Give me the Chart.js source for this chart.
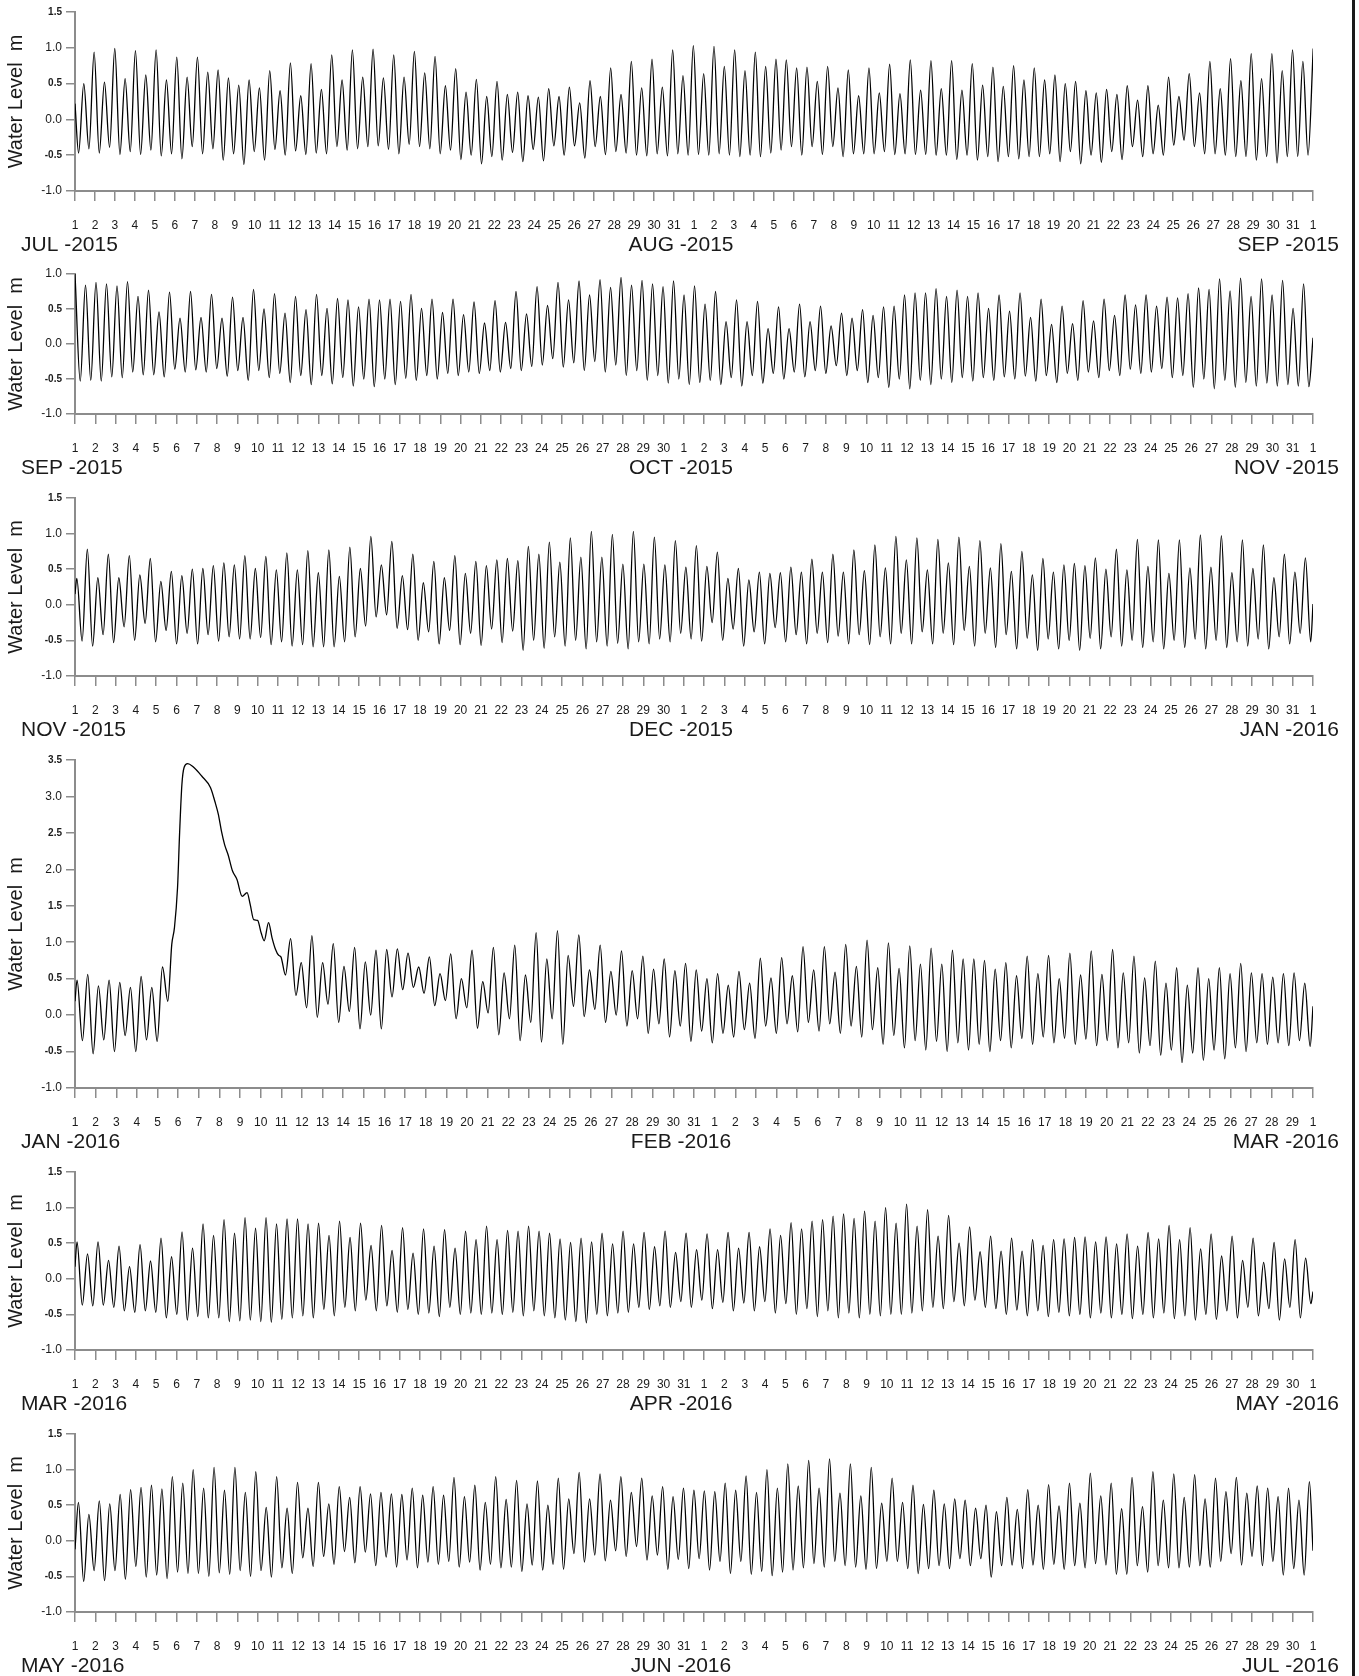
<!DOCTYPE html>
<html>
<head>
<meta charset="utf-8">
<title>Water Level Jul 2015 - Jul 2016</title>
<script src="https://cdn.jsdelivr.net/npm/chart.js@4.4.0/dist/chart.umd.min.js"></script>
<style>
html, body { margin: 0; padding: 0; background: #fff; }
#page { position: relative; width: 1359px; height: 1676px; overflow: hidden; background: #fff; }
.panel { position: absolute; left: 0; width: 1359px; }
.panel canvas { display: block; }
#edge { position: absolute; left: 1352px; top: 0; width: 3px; height: 1676px; background: #1a1a1a; }
</style>
</head>
<body>
<div id="page"><div id="edge"></div></div>
<script>
// --- tick / month labels ---
const monthNames = [
    ['JUL -2015', 'AUG -2015', 'SEP -2015'],
    ['SEP -2015', 'OCT -2015', 'NOV -2015'],
    ['NOV -2015', 'DEC -2015', 'JAN -2016'],
    ['JAN -2016', 'FEB -2016', 'MAR -2016'],
    ['MAR -2016', 'APR -2016', 'MAY -2016'],
    ['MAY -2016', 'JUN -2016', 'JUL -2016']
];
const monthLengths = [[31, 31], [30, 31], [30, 31], [31, 29], [31, 30], [31, 30]];
const yRanges = [[-1, 1.5], [-1, 1], [-1, 1.5], [-1, 3.5], [-1, 1.5], [-1, 1.5]];

// --- tide extremes (m) ---
// day offset (from first day of panel) of the first high / first low, and spacing between highs
const firstHighDay = [0.44, 0, 0.09, 0.1, 0.1, 0.17];
const firstLowDay = [0.18, 0.2587, 0.35, 0.36, 0.36, 0.427];
const tideSpacing = [0.5174, 0.5174, 0.5174, 0.5174, 0.5174, 0.514];
const startLevel = [0.22, null, 0.15, 0.19, 0.17, -0.12];
const endLevel = [null, 0.09, 0.01, 0.12, -0.18, -0.14];

const julAugHigh = [
    0.50, 0.94, 0.52, 0.99, 0.57, 0.96, 0.62, 0.97, 0.55, 0.87,
    0.59, 0.87, 0.66, 0.69, 0.58, 0.48, 0.55, 0.44, 0.68, 0.40,
    0.79, 0.33, 0.78, 0.42, 0.90, 0.55, 0.97, 0.59, 0.98, 0.58,
    0.90, 0.59, 0.95, 0.65, 0.88, 0.47, 0.71, 0.38, 0.56, 0.32,
    0.53, 0.35, 0.38, 0.33, 0.31, 0.43, 0.32, 0.45, 0.23, 0.54,
    0.32, 0.72, 0.35, 0.81, 0.44, 0.84, 0.45,
    0.97, 0.61, 1.03, 0.64, 1.02, 0.74, 0.97, 0.68, 0.94, 0.74,
    0.84, 0.83, 0.72, 0.73, 0.53, 0.74, 0.44, 0.69, 0.33, 0.72,
    0.37, 0.77, 0.36, 0.83, 0.41, 0.82, 0.43, 0.82, 0.41, 0.78,
    0.48, 0.73, 0.46, 0.75, 0.55, 0.72, 0.55, 0.62, 0.50, 0.53,
    0.40, 0.37, 0.42, 0.35, 0.47, 0.27, 0.47, 0.20, 0.59, 0.32,
    0.64, 0.37, 0.81, 0.43, 0.85, 0.54, 0.92, 0.57, 0.92, 0.68,
    0.97, 0.81, 0.99
];
const julAugLow = [
    -0.47, -0.41, -0.47, -0.39, -0.49, -0.45, -0.49, -0.43, -0.51, -0.48,
    -0.55, -0.38, -0.48, -0.41, -0.57, -0.48, -0.63, -0.45, -0.57, -0.42,
    -0.50, -0.44, -0.49, -0.47, -0.48, -0.38, -0.43, -0.41, -0.38, -0.37,
    -0.42, -0.48, -0.35, -0.38, -0.41, -0.48, -0.43, -0.56, -0.50, -0.62,
    -0.52, -0.57, -0.46, -0.59, -0.42, -0.58, -0.37, -0.50, -0.37, -0.54,
    -0.38, -0.49, -0.45, -0.47, -0.50, -0.51, -0.48, -0.51, -0.48,
    -0.50, -0.49, -0.50, -0.48, -0.50, -0.52, -0.50, -0.52, -0.47, -0.43,
    -0.38, -0.50, -0.38, -0.49, -0.38, -0.52, -0.48, -0.48, -0.48, -0.45,
    -0.49, -0.48, -0.49, -0.49, -0.50, -0.50, -0.56, -0.50, -0.57, -0.52,
    -0.59, -0.52, -0.55, -0.52, -0.52, -0.48, -0.59, -0.45, -0.62, -0.50,
    -0.60, -0.45, -0.56, -0.38, -0.52, -0.48, -0.50, -0.36, -0.29, -0.38,
    -0.48, -0.48, -0.50, -0.52, -0.52, -0.57, -0.52, -0.61, -0.52, -0.52,
    -0.50
];

const sepOctHigh = [
    1.00, 0.84, 0.88, 0.86, 0.83, 0.89, 0.68, 0.77, 0.46, 0.74,
    0.37, 0.75, 0.38, 0.71, 0.37, 0.67, 0.38, 0.78, 0.50, 0.72,
    0.44, 0.68, 0.49, 0.71, 0.51, 0.65, 0.63, 0.53, 0.64, 0.63,
    0.64, 0.61, 0.71, 0.51, 0.64, 0.45, 0.64, 0.42, 0.60, 0.30,
    0.62, 0.31, 0.75, 0.43, 0.82, 0.55, 0.88, 0.63, 0.90, 0.70,
    0.92, 0.81, 0.95, 0.84, 0.91, 0.86, 0.82, 0.90, 0.70,
    0.83, 0.57, 0.75, 0.32, 0.63, 0.32, 0.61, 0.22, 0.53, 0.22,
    0.57, 0.32, 0.54, 0.26, 0.44, 0.37, 0.49, 0.41, 0.53, 0.54,
    0.70, 0.73, 0.73, 0.79, 0.68, 0.77, 0.68, 0.73, 0.51, 0.70,
    0.47, 0.73, 0.38, 0.64, 0.28, 0.54, 0.29, 0.62, 0.33, 0.64,
    0.41, 0.70, 0.56, 0.70, 0.54, 0.67, 0.66, 0.72, 0.80, 0.78,
    0.93, 0.76, 0.94, 0.68, 0.93, 0.70, 0.91, 0.51, 0.86
];
const sepOctLow = [
    -0.53, -0.52, -0.53, -0.47, -0.48, -0.40, -0.44, -0.44, -0.47, -0.36,
    -0.40, -0.37, -0.40, -0.35, -0.46, -0.38, -0.52, -0.38, -0.48, -0.42,
    -0.55, -0.45, -0.58, -0.45, -0.57, -0.48, -0.60, -0.50, -0.61, -0.50,
    -0.58, -0.49, -0.52, -0.45, -0.50, -0.42, -0.45, -0.40, -0.42, -0.38,
    -0.40, -0.35, -0.38, -0.32, -0.30, -0.21, -0.33, -0.27, -0.38, -0.25,
    -0.40, -0.30, -0.45, -0.38, -0.52, -0.45, -0.56, -0.50, -0.58,
    -0.55, -0.52, -0.58, -0.48, -0.60, -0.45, -0.56, -0.42, -0.50, -0.40,
    -0.47, -0.38, -0.42, -0.31, -0.45, -0.38, -0.55, -0.48, -0.62, -0.50,
    -0.64, -0.52, -0.58, -0.50, -0.55, -0.48, -0.53, -0.48, -0.52, -0.47,
    -0.50, -0.46, -0.53, -0.45, -0.55, -0.42, -0.52, -0.40, -0.48, -0.38,
    -0.45, -0.36, -0.42, -0.40, -0.35, -0.48, -0.45, -0.62, -0.50, -0.64,
    -0.52, -0.62, -0.55, -0.60, -0.56, -0.60, -0.58, -0.60, -0.61
];

const novDecHigh = [
    0.37, 0.78, 0.38, 0.71, 0.38, 0.69, 0.42, 0.65, 0.33, 0.47,
    0.41, 0.50, 0.51, 0.55, 0.59, 0.56, 0.69, 0.51, 0.68, 0.49,
    0.73, 0.49, 0.76, 0.45, 0.77, 0.40, 0.81, 0.51, 0.96, 0.56,
    0.89, 0.41, 0.71, 0.31, 0.61, 0.38, 0.69, 0.44, 0.61, 0.55,
    0.63, 0.65, 0.62, 0.82, 0.71, 0.88, 0.60, 0.94, 0.67, 1.03,
    0.67, 0.99, 0.57, 1.03, 0.57, 0.95, 0.56, 0.90, 0.53,
    0.83, 0.54, 0.74, 0.37, 0.51, 0.35, 0.46, 0.44, 0.45, 0.53,
    0.46, 0.64, 0.46, 0.71, 0.46, 0.77, 0.48, 0.84, 0.52, 0.96,
    0.63, 0.94, 0.49, 0.92, 0.59, 0.95, 0.54, 0.90, 0.52, 0.86,
    0.47, 0.75, 0.42, 0.65, 0.46, 0.56, 0.58, 0.55, 0.66, 0.50,
    0.78, 0.49, 0.92, 0.54, 0.91, 0.44, 0.91, 0.52, 0.98, 0.53,
    0.97, 0.45, 0.91, 0.51, 0.84, 0.38, 0.71, 0.46, 0.66
];
const novDecLow = [
    -0.51, -0.58, -0.42, -0.53, -0.31, -0.50, -0.26, -0.52, -0.36, -0.55,
    -0.40, -0.55, -0.42, -0.51, -0.45, -0.48, -0.48, -0.46, -0.56, -0.52,
    -0.58, -0.56, -0.59, -0.59, -0.59, -0.52, -0.45, -0.30, -0.17, -0.14,
    -0.33, -0.35, -0.50, -0.38, -0.55, -0.36, -0.56, -0.40, -0.57, -0.34,
    -0.53, -0.37, -0.64, -0.50, -0.61, -0.45, -0.58, -0.50, -0.62, -0.52,
    -0.58, -0.54, -0.62, -0.52, -0.55, -0.48, -0.52, -0.40, -0.48,
    -0.51, -0.25, -0.50, -0.34, -0.58, -0.38, -0.55, -0.32, -0.52, -0.42,
    -0.55, -0.40, -0.53, -0.44, -0.55, -0.42, -0.56, -0.45, -0.55, -0.40,
    -0.55, -0.38, -0.55, -0.40, -0.56, -0.36, -0.58, -0.40, -0.60, -0.42,
    -0.62, -0.47, -0.64, -0.48, -0.62, -0.50, -0.64, -0.47, -0.62, -0.45,
    -0.58, -0.50, -0.60, -0.52, -0.62, -0.50, -0.60, -0.48, -0.62, -0.50,
    -0.60, -0.52, -0.58, -0.48, -0.62, -0.45, -0.55, -0.40, -0.52
];

// Jan-Feb: tidal extremes are masked (null) during the surge, which is given separately
const janFebHigh = [
    0.48, 0.56, 0.40, 0.48, 0.45, 0.38, 0.53, 0.38, 0.66,
    null, null, null, null, null, null, null, null, null, null, null,
    1.05, 0.72, 1.09, 0.72, 0.98, 0.67, 0.93, 0.73, 0.89, 0.90,
    0.91, 0.85, 0.66, 0.80, 0.57, 0.84, 0.50, 0.89, 0.46, 0.93,
    0.58, 0.96, 0.55, 1.13, 0.77, 1.16, 0.82, 1.10, 0.62, 0.96,
    0.60, 0.88, 0.61, 0.81, 0.63, 0.77,
    0.61, 0.71, 0.62, 0.50, 0.57, 0.41, 0.60, 0.44, 0.78, 0.51,
    0.79, 0.54, 0.94, 0.62, 0.94, 0.59, 0.97, 0.67, 1.03, 0.65,
    0.99, 0.64, 0.95, 0.70, 0.92, 0.70, 0.89, 0.77, 0.77, 0.75,
    0.63, 0.72, 0.54, 0.81, 0.57, 0.82, 0.50, 0.85, 0.55, 0.88,
    0.56, 0.90, 0.58, 0.81, 0.51, 0.74, 0.44, 0.65, 0.41, 0.65,
    0.50, 0.65, 0.57, 0.71, 0.58, 0.57, 0.52, 0.57, 0.58, 0.44
];
const janFebLow = [
    -0.35, -0.53, -0.34, -0.50, -0.28, -0.50, -0.34, -0.36, 0.19,
    null, null, null, null, null, null, null, null, null, null, null,
    0.27, 0.10, -0.03, 0.15, -0.10, 0.05, -0.19, 0.00, -0.19, 0.25,
    0.35, 0.38, 0.30, 0.13, 0.20, -0.05, 0.10, -0.18, 0.03, -0.27,
    -0.05, -0.35, -0.10, -0.37, -0.05, -0.40, 0.12, -0.02, 0.08, -0.10,
    0.00, -0.15, -0.05, -0.25, -0.12, -0.30,
    -0.15, -0.36, -0.22, -0.38, -0.25, -0.30, -0.20, -0.32, -0.15, -0.25,
    -0.12, -0.23, -0.10, -0.22, -0.12, -0.25, -0.15, -0.30, -0.20, -0.40,
    -0.28, -0.45, -0.35, -0.48, -0.36, -0.50, -0.38, -0.48, -0.40, -0.50,
    -0.35, -0.45, -0.32, -0.40, -0.30, -0.38, -0.32, -0.40, -0.33, -0.42,
    -0.35, -0.45, -0.38, -0.52, -0.42, -0.55, -0.48, -0.65, -0.52, -0.62,
    -0.48, -0.60, -0.45, -0.50, -0.38, -0.40, -0.38, -0.42, -0.35, -0.43
];
const surgeDays = [
    4.69, 4.82, 4.97, 5.07, 5.18, 5.29, 5.46, 5.71, 6.14, 6.57,
    6.78, 6.95, 7.10, 7.25, 7.42, 7.63, 7.85, 8.10, 8.34, 8.49,
    8.66, 8.85, 9.02, 9.17, 9.38, 9.55, 9.72, 9.87, 9.98, 10.20
];
const surgeLevels = [
    0.97, 1.20, 1.75, 2.50, 3.16, 3.40, 3.45, 3.41, 3.28, 3.12,
    2.93, 2.75, 2.52, 2.34, 2.20, 1.98, 1.86, 1.63, 1.68, 1.52,
    1.31, 1.30, 1.13, 1.02, 1.27, 1.06, 0.90, 0.82, 0.80, 0.55
];

const marAprHigh = [
    0.52, 0.35, 0.52, 0.26, 0.46, 0.17, 0.48, 0.25, 0.57, 0.31,
    0.66, 0.43, 0.77, 0.61, 0.83, 0.64, 0.86, 0.71, 0.86, 0.77,
    0.84, 0.84, 0.77, 0.78, 0.61, 0.81, 0.58, 0.78, 0.47, 0.75,
    0.40, 0.72, 0.36, 0.70, 0.46, 0.69, 0.43, 0.67, 0.55, 0.74,
    0.55, 0.68, 0.67, 0.74, 0.67, 0.64, 0.56, 0.51, 0.57, 0.52,
    0.64, 0.49, 0.67, 0.49, 0.65, 0.45, 0.67, 0.37,
    0.64, 0.41, 0.63, 0.41, 0.65, 0.43, 0.65, 0.45, 0.70, 0.61,
    0.79, 0.70, 0.81, 0.83, 0.88, 0.91, 0.85, 0.95, 0.81, 1.00,
    0.78, 1.05, 0.74, 0.97, 0.60, 0.89, 0.50, 0.73, 0.38, 0.60,
    0.39, 0.57, 0.39, 0.55, 0.47, 0.55, 0.56, 0.58, 0.59, 0.52,
    0.59, 0.49, 0.63, 0.46, 0.65, 0.56, 0.75, 0.55, 0.72, 0.42,
    0.63, 0.32, 0.60, 0.26, 0.57, 0.23, 0.51, 0.28, 0.55, 0.29
];
const marAprLow = [
    -0.37, -0.38, -0.37, -0.40, -0.45, -0.47, -0.45, -0.47, -0.55, -0.50,
    -0.58, -0.53, -0.55, -0.55, -0.60, -0.59, -0.58, -0.60, -0.61, -0.57,
    -0.55, -0.52, -0.55, -0.43, -0.52, -0.40, -0.45, -0.30, -0.45, -0.38,
    -0.47, -0.43, -0.50, -0.48, -0.53, -0.40, -0.50, -0.48, -0.50, -0.48,
    -0.50, -0.47, -0.52, -0.45, -0.52, -0.55, -0.58, -0.60, -0.62, -0.50,
    -0.52, -0.48, -0.47, -0.40, -0.43, -0.38, -0.40, -0.32,
    -0.40, -0.30, -0.42, -0.33, -0.45, -0.34, -0.45, -0.32, -0.48, -0.35,
    -0.50, -0.42, -0.53, -0.45, -0.55, -0.48, -0.55, -0.50, -0.52, -0.50,
    -0.50, -0.48, -0.45, -0.40, -0.42, -0.32, -0.38, -0.30, -0.40, -0.42,
    -0.50, -0.44, -0.52, -0.45, -0.53, -0.47, -0.52, -0.50, -0.55, -0.48,
    -0.55, -0.50, -0.56, -0.50, -0.55, -0.48, -0.56, -0.52, -0.58, -0.50,
    -0.57, -0.45, -0.55, -0.40, -0.52, -0.42, -0.58, -0.40, -0.55, -0.35
];

const mayJunHigh = [
    0.54, 0.37, 0.56, 0.52, 0.65, 0.72, 0.75, 0.78, 0.73, 0.90,
    0.81, 1.00, 0.74, 1.03, 0.71, 1.03, 0.68, 0.97, 0.47, 0.90,
    0.46, 0.82, 0.46, 0.82, 0.52, 0.76, 0.61, 0.76, 0.66, 0.68,
    0.66, 0.65, 0.74, 0.64, 0.76, 0.64, 0.89, 0.62, 0.78, 0.54,
    0.90, 0.58, 0.85, 0.52, 0.84, 0.50, 0.88, 0.59, 0.96, 0.59,
    0.94, 0.57, 0.90, 0.68, 0.88, 0.63, 0.76, 0.62, 0.74,
    0.71, 0.70, 0.69, 0.81, 0.71, 0.91, 0.68, 1.00, 0.74, 1.08,
    0.77, 1.13, 0.74, 1.15, 0.67, 1.08, 0.63, 1.03, 0.53, 0.88,
    0.54, 0.78, 0.51, 0.71, 0.52, 0.59, 0.57, 0.46, 0.50, 0.41,
    0.61, 0.44, 0.72, 0.50, 0.79, 0.49, 0.81, 0.53, 0.95, 0.63,
    0.81, 0.45, 0.89, 0.48, 0.97, 0.57, 0.94, 0.61, 0.93, 0.59,
    0.88, 0.69, 0.89, 0.67, 0.77, 0.74, 0.62, 0.74, 0.57, 0.83
];
const mayJunLow = [
    -0.57, -0.42, -0.56, -0.42, -0.54, -0.36, -0.51, -0.48, -0.53, -0.44,
    -0.46, -0.46, -0.50, -0.45, -0.47, -0.42, -0.50, -0.42, -0.51, -0.38,
    -0.46, -0.24, -0.36, -0.22, -0.33, -0.15, -0.31, -0.16, -0.35, -0.23,
    -0.37, -0.27, -0.38, -0.30, -0.33, -0.29, -0.37, -0.30, -0.41, -0.33,
    -0.38, -0.37, -0.43, -0.34, -0.41, -0.33, -0.40, -0.18, -0.30, -0.20,
    -0.28, -0.14, -0.22, -0.08, -0.27, -0.20, -0.40, -0.26,
    -0.39, -0.25, -0.41, -0.29, -0.46, -0.29, -0.47, -0.43, -0.49, -0.44,
    -0.41, -0.38, -0.32, -0.37, -0.29, -0.35, -0.37, -0.40, -0.39, -0.29,
    -0.29, -0.39, -0.46, -0.39, -0.35, -0.39, -0.25, -0.35, -0.25, -0.51,
    -0.35, -0.34, -0.39, -0.34, -0.40, -0.33, -0.40, -0.35, -0.38, -0.32,
    -0.34, -0.47, -0.47, -0.35, -0.44, -0.35, -0.38, -0.38, -0.37, -0.35,
    -0.37, -0.29, -0.18, -0.34, -0.22, -0.35, -0.29, -0.48, -0.39, -0.48
];

const highs = [julAugHigh, sepOctHigh, novDecHigh, janFebHigh, marAprHigh, mayJunHigh];
const lows = [julAugLow, sepOctLow, novDecLow, janFebLow, marAprLow, mayJunLow];

// --- layout ---
const FONT = "'Liberation Sans', Arial, sans-serif";
const AXIS_GREY = '#8c8c8c';
const TEXT = '#1a1a1a';
const PAD_TOP = 12;
const X_AXIS_H = 64;
const Y_AXIS_W = 75;
const panelTops = [0, 262, 486, 748, 1160, 1422];
const plotHeights = [179, 140, 178, 328, 178, 178];

Chart.defaults.font.family = FONT;

function dayLabels(lengths) {
    const out = [];
    lengths.forEach(len => {
        for (let d = 1; d <= len; d++) out.push(String(d));
    });
    out.push('1');
    return out;
}

function buildSeries(i) {
    const pts = [];
    const step = tideSpacing[i];
    if (startLevel[i] !== null) pts.push({ x: 0, y: startLevel[i] });
    highs[i].forEach((v, j) => {
        if (v !== null) pts.push({ x: firstHighDay[i] + j * step, y: v });
    });
    lows[i].forEach((v, j) => {
        if (v !== null) pts.push({ x: firstLowDay[i] + j * step, y: v });
    });
    if (i === 3) {
        surgeDays.forEach((d, k) => pts.push({ x: d, y: surgeLevels[k] }));
    }
    const total = monthLengths[i][0] + monthLengths[i][1];
    if (endLevel[i] !== null) pts.push({ x: total, y: endLevel[i] });
    pts.sort((a, b) => a.x - b.x);
    return pts;
}

const monthPlugin = {
    id: 'monthNames',
    afterDraw(chart, args, opts) {
        const { ctx, chartArea } = chart;
        const y = chartArea.bottom + 54;
        ctx.save();
        ctx.font = '21px ' + FONT;
        ctx.fillStyle = TEXT;
        ctx.textBaseline = 'middle';
        ctx.textAlign = 'left';
        ctx.fillText(opts.names[0], 21, y);
        ctx.textAlign = 'center';
        ctx.fillText(opts.names[1], 681, y);
        ctx.textAlign = 'right';
        ctx.fillText(opts.names[2], 1339, y);
        ctx.restore();
    }
};

const page = document.getElementById('page');

function makePanel(i) {
    const h = PAD_TOP + plotHeights[i] + X_AXIS_H;
    const wrap = document.createElement('div');
    wrap.className = 'panel';
    wrap.style.top = panelTops[i] + 'px';
    wrap.style.height = h + 'px';
    const cv = document.createElement('canvas');
    cv.width = 1359;
    cv.height = h;
    cv.style.width = '1359px';
    cv.style.height = h + 'px';
    wrap.appendChild(cv);
    page.appendChild(wrap);

    const labels = dayLabels(monthLengths[i]);
    const total = labels.length - 1;
    const [yMin, yMax] = yRanges[i];

    new Chart(cv, {
        type: 'line',
        data: {
            datasets: [{
                data: buildSeries(i),
                borderColor: '#000',
                borderWidth: 1.3,
                pointRadius: 0,
                fill: false,
                cubicInterpolationMode: 'monotone'
            }]
        },
        options: {
            responsive: false,
            animation: false,
            devicePixelRatio: 1,
            parsing: false,
            layout: { padding: { top: PAD_TOP, right: 1359 - 1313, bottom: 0, left: 0 } },
            plugins: {
                legend: { display: false },
                tooltip: { enabled: false },
                monthNames: { names: monthNames[i] }
            },
            scales: {
                x: {
                    type: 'linear',
                    min: 0,
                    max: total,
                    afterBuildTicks: s => { s.ticks = labels.map((_, k) => ({ value: k })); },
                    afterFit: s => { s.height = X_AXIS_H; },
                    ticks: {
                        autoSkip: false,
                        maxRotation: 0,
                        minRotation: 0,
                        padding: 17,
                        color: TEXT,
                        font: { family: FONT, size: 12 },
                        callback: (v, k) => labels[k]
                    },
                    grid: { drawOnChartArea: false, tickLength: 10, color: AXIS_GREY, lineWidth: 1.5 },
                    border: { color: AXIS_GREY, width: 2 }
                },
                y: {
                    min: yMin,
                    max: yMax,
                    afterBuildTicks: s => {
                        const t = [];
                        for (let v = yMin; v <= yMax + 1e-9; v += 0.5) t.push({ value: Math.round(v * 10) / 10 });
                        s.ticks = t;
                    },
                    afterFit: s => { s.width = Y_AXIS_W; },
                    ticks: {
                        padding: 4,
                        color: TEXT,
                        callback: v => v.toFixed(1),
                        font: ctx => {
                            const half = ctx.tick && Math.abs(ctx.tick.value % 1) > 0.01;
                            return half ? { family: FONT, size: 10, weight: 'bold' } : { family: FONT, size: 12 };
                        }
                    },
                    grid: { drawOnChartArea: false, tickLength: 9, color: AXIS_GREY, lineWidth: 1.5 },
                    border: { color: AXIS_GREY, width: 2 },
                    title: {
                        display: true,
                        text: 'Water Level  m',
                        color: TEXT,
                        font: { family: FONT, size: 20 },
                        padding: { top: 4, bottom: 0 }
                    }
                }
            }
        },
        plugins: [monthPlugin]
    });
}

for (let i = 0; i < 6; i++) makePanel(i);
</script>
</body>
</html>
